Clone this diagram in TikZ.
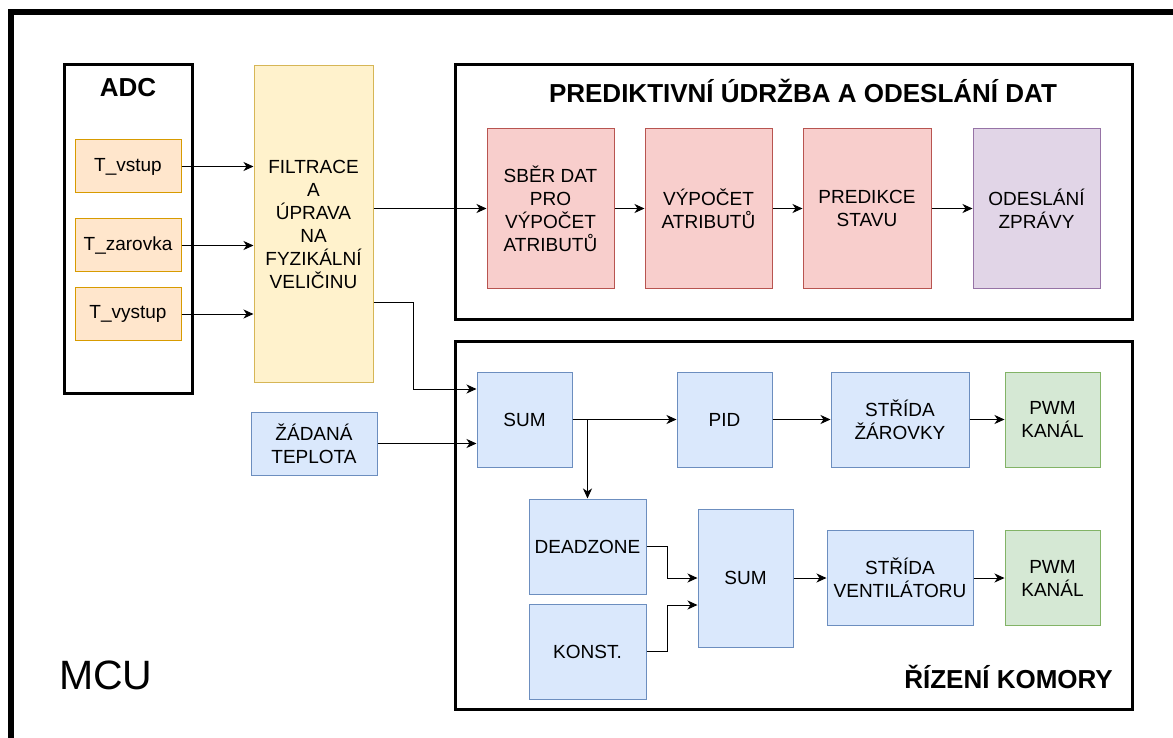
\documentclass[tikz,border=0pt]{standalone}
\usepackage{fontspec}
\setmainfont{Liberation Sans}
\usetikzlibrary{arrows.meta}

\definecolor{orfill}{HTML}{FFE6CC}
\definecolor{ordraw}{HTML}{D79B00}
\definecolor{yefill}{HTML}{FFF2CC}
\definecolor{yedraw}{HTML}{D6B656}
\definecolor{refill}{HTML}{F8CECC}
\definecolor{redraw}{HTML}{B85450}
\definecolor{pufill}{HTML}{E1D5E7}
\definecolor{pudraw}{HTML}{9673A6}
\definecolor{blfill}{HTML}{DAE8FC}
\definecolor{bldraw}{HTML}{6C8EBF}
\definecolor{grfill}{HTML}{D5E8D4}
\definecolor{grdraw}{HTML}{82B366}

\begin{document}
\begin{tikzpicture}[x=1pt,y=-1pt,
	box/.style={draw,line width=1pt,inner sep=0pt,align=center,
		font=\fontsize{19}{23}\selectfont,minimum width=95pt,minimum height=95pt},
	orbox/.style={box,fill=orfill,draw=ordraw,minimum width=106pt,minimum height=53pt},
	yebox/.style={box,fill=yefill,draw=yedraw},
	rebox/.style={box,fill=refill,draw=redraw,minimum width=127pt,minimum height=159pt},
	pubox/.style={box,fill=pufill,draw=pudraw,minimum width=127pt,minimum height=159pt},
	blbox/.style={box,fill=blfill,draw=bldraw},
	grbox/.style={box,fill=grfill,draw=grdraw},
	frame/.style={draw,line width=3pt,inner sep=0pt},
	title/.style={font=\fontsize{26}{31}\selectfont\bfseries,inner sep=0pt},
	arr/.style={-{Stealth[length=10pt,width=9pt,inset=3pt]},line width=1pt}]
	\useasboundingbox (0,0) rectangle (1173,738);
	\draw[line width=6pt] (11,760) -- (11,12.5) -- (1190,12.5);
	\node[anchor=base west,inner sep=0pt,font=\fontsize{41}{48}\selectfont] (mcu) at (59,689) {MCU};

	\node[frame,minimum width=128pt,minimum height=328pt] (adc) at (128,229) {};
	\node[title,anchor=base] (adct) at (128,97) {ADC};
	\node[orbox] (tin) at (128,166.5) {T\_vstup};
	\node[orbox] (tlamp) at (128,245.5) {T\_zarovka};
	\node[orbox] (tout) at (128,314) {T\_vystup};
	\node[yebox,minimum width=119pt,minimum height=316pt] (filt) at (313.5,224)
		{FILTRACE\\A\\ÚPRAVA\\NA\\FYZIKÁLNÍ\\VELIČINU};

	\node[frame,minimum width=677pt,minimum height=254pt] (pred) at (793.5,192) {};
	\node[title,anchor=base] (predt) at (803,103) {PREDIKTIVNÍ ÚDRŽBA A ODESLÁNÍ DAT};
	\node[rebox] (sber) at (550.5,208.5) {SBĚR DAT\\PRO\\VÝPOČET\\ATRIBUTŮ};
	\node[rebox] (atrib) at (708.5,208.5) {VÝPOČET\\ATRIBUTŮ};
	\node[rebox,minimum width=128pt] (predikce) at (867,208.5) {PREDIKCE\\STAVU};
	\node[pubox] (odes) at (1036.5,208.5) {ODESLÁNÍ\\ZPRÁVY};

	\node[frame,minimum width=677pt,minimum height=368pt] (ctrl) at (793.5,525) {};
	\node[title,anchor=base east] (ctrlt) at (1113,688) {ŘÍZENÍ KOMORY};
	\node[blbox,minimum width=126pt,minimum height=63pt] (zad) at (314,443.5) {ŽÁDANÁ\\TEPLOTA};
	\node[blbox] (sum1) at (524.5,419.5) {SUM};
	\node[blbox] (pid) at (724.5,419.5) {PID};
	\node[blbox,minimum width=138pt] (stridaz) at (900,419.5) {STŘÍDA\\ŽÁROVKY};
	\node[grbox] (pwmz) at (1052.5,419.5) {PWM\\KANÁL};
	\node[blbox,minimum width=117pt] (dead) at (587.5,546.5) {DEADZONE};
	\node[blbox,minimum width=117pt] (konst) at (587.5,651.5) {KONST.};
	\node[blbox,minimum height=138pt] (sum2) at (745.5,578) {SUM};
	\node[blbox,minimum width=146pt] (stridav) at (900,578) {STŘÍDA\\VENTILÁTORU};
	\node[grbox] (pwmv) at (1052.5,578) {PWM\\KANÁL};

	\foreach \n in {tin,tlamp,tout}
		\draw[arr] (\n.east) -- (\n.east -| filt.west);
	\draw[arr] (filt.east |- sber.west) -- (sber.west);
	\draw[arr] (sber) -- (atrib);
	\draw[arr] (atrib) -- (predikce);
	\draw[arr] (predikce) -- (odes);
	\draw[arr] ([yshift=-78pt]filt.east) -- ++(40,0) |- ([yshift=30.5pt]sum1.west);
	\draw[arr] (zad.east) -- (zad.east -| sum1.west);
	\draw[arr] (sum1) -- (pid);
	\draw[arr] (sum1.east) -| (dead.north);
	\draw[arr] (pid) -- (stridaz);
	\draw[arr] (stridaz) -- (pwmz);
	\draw[arr] (dead.east) -- ++(21,0) |- (sum2.west);
	\draw[arr] (konst.east) -- ++(21,0) |- ([yshift=-27pt]sum2.west);
	\draw[arr] (sum2) -- (stridav);
	\draw[arr] (stridav) -- (pwmv);
\end{tikzpicture}
\end{document}
